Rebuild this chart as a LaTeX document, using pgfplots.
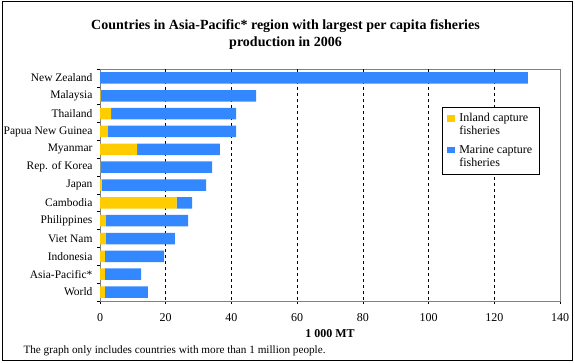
\documentclass[border=0pt]{standalone}
\usepackage{pgfplots}
\pgfplotsset{compat=1.18}
\usepackage{fontspec}
\setmainfont{Liberation Serif}
\definecolor{inlandc}{HTML}{FFCC00}
\definecolor{marinec}{HTML}{3388FF}
\begin{document}
\begin{tikzpicture}[x=1pt,y=1pt]
\useasboundingbox (0,0) rectangle (575,362);
\draw[line width=1pt] (2,2) rectangle (572,360);
\node[align=center,font=\fontsize{14}{17}\selectfont\bfseries] at (285.5,327.5) {Countries in Asia-Pacific* region with largest per capita fisheries\\production in 2006};
\node[anchor=west,font=\fontsize{11.2}{13}\selectfont] at (20,11.5) {The graph only includes countries with more than 1 million people.};
\begin{axis}[
  at={(100pt,61pt)}, anchor=south west,
  width=460pt, height=232pt, scale only axis,
  xbar stacked, bar width=11.5pt,
  xmin=0, xmax=140,
  ymin=-0.5, ymax=12.5, y dir=reverse,
  xtick={0,20,...,140},
  extra x ticks={20,40,...,120},
  extra x tick labels={},
  extra x tick style={grid=major, major tick length=0pt},
  major grid style={black, dashed, line width=0.6pt},
  ytick={-0.5,0.5,...,12.5},
  yticklabels={},
  extra y ticks={0,...,12},
  extra y tick labels={New Zealand,Malaysia,Thailand,Papua New Guinea,Myanmar,Rep. of Korea,Japan,Cambodia,Philippines,Viet Nam,Indonesia,Asia-Pacific*,World},
  extra y tick style={major tick length=0pt, yticklabel style={xshift=-4pt, font=\fontsize{11.5}{14}\selectfont}},
  major tick length=3pt,
  tick align=outside,
  tick style={black, line width=0.6pt},
  xtick pos=bottom, ytick pos=left,
  axis line style={gray, line width=0.8pt},
  ticklabel style={font=\fontsize{12}{14}\selectfont},
  xticklabel style={yshift=-6pt},
  /pgf/number format/assume math mode=true,
  xlabel={\textbf{1 000 MT}},
  xlabel style={at={(axis description cs:0.5,0)}, anchor=center, yshift=-33pt, font=\fontsize{12}{14}\selectfont},
  legend style={at={(0.7435,0.835)}, anchor=north west, draw=black, line width=0.6pt,
     font=\fontsize{12}{13}\selectfont, row sep=5pt, inner xsep=5pt, inner ysep=4pt,
     cells={align=left, inner xsep=1pt}},
  legend cell align=left,
  legend image code/.code={\fill[#1] (0pt,3.4pt) rectangle (7.7pt,10pt); \path (10pt,0pt);},
]
\addplot[fill=inlandc, draw=none] coordinates {
(0,0) (0.2,1) (3.4,2) (2.4,3) (11.3,4) (0.1,5) (0.5,6) (23.3,7) (1.8,8) (1.8,9) (1.5,10) (1.5,11) (1.5,12)};
\addplot[fill=marinec, draw=none] coordinates {
(130.2,0) (47.3,1) (38.0,2) (39.0,3) (25.2,4) (34.0,5) (31.8,6) (4.7,7) (25.0,8) (21.0,9) (18.0,10) (11.0,11) (13.1,12)};
\legend{{Inland capture\\fisheries},{Marine capture\\fisheries\rule[-4pt]{0pt}{4pt}}}
\end{axis}
\end{tikzpicture}
\end{document}
